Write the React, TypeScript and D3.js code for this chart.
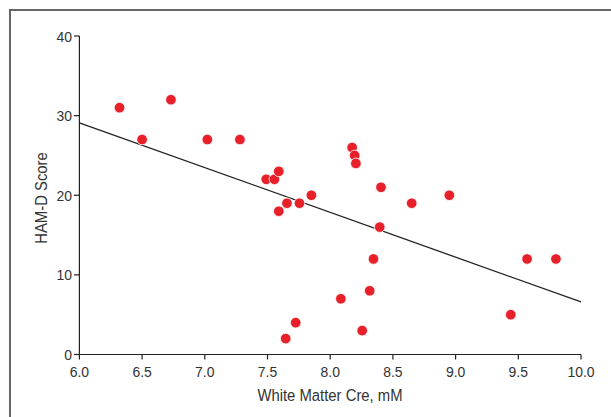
import React from "react";
import * as d3 from "d3";

const creValues = [6.32, 6.5, 6.73, 7.02, 7.28, 7.49, 7.555, 7.59, 7.59, 7.655, 7.755, 7.85,
  8.175, 8.195, 8.205, 8.405, 8.395, 8.65, 8.95, 8.345, 8.315, 8.085, 7.725, 7.645, 8.255, 9.44, 9.57, 9.8];
const hamdScores = [31, 27, 32, 27, 27, 22, 22, 23, 18, 19, 19, 20,
  26, 25, 24, 21, 16, 19, 20, 12, 8, 7, 4, 2, 3, 5, 12, 12];
const fitX = [6.0, 10.0];
const fitY = [29.1, 6.6];
const xTicks = [6.0, 6.5, 7.0, 7.5, 8.0, 8.5, 9.0, 9.5, 10.0];
const yTicks = [0, 10, 20, 30, 40];

const W = 611, H = 417;
const FONT = "'Liberation Sans', Arial, sans-serif";
const SX = 0.9;

export default function App() {
  const x = d3.scaleLinear().domain([6, 10]).range([79.4, 581]);
  const y = d3.scaleLinear().domain([0, 40]).range([354.5, 36]);
  const line = d3.line<number>().x((d, i) => x(fitX[i])).y((d, i) => y(fitY[i]));
  const textColor = "#333";
  return (
    <svg width={W} height={H} style={{ position: "absolute", left: 0, top: 0, background: "#fff" }}>
      <rect x={0} y={0} width={W} height={H} fill="#fff" />
      <path d={`M10,${H} V10 H${W}`} fill="none" stroke="#666" strokeWidth={2} />
      {/* y axis */}
      <line x1={x(6)} x2={x(6)} y1={y(0)} y2={y(40)} stroke="#222" strokeWidth={1.2} />
      {yTicks.map((t) => (
        <g key={t}>
          <line x1={x(6) - 5.5} x2={x(6)} y1={y(t)} y2={y(t)} stroke="#222" strokeWidth={1.2} />
          <text
            transform={`translate(${x(6) - 7.5},${y(t)}) scale(${SX},1)`}
            dy="0.36em"
            textAnchor="end"
            fontFamily={FONT}
            fontSize={15.5}
            fill={textColor}
          >
            {t}
          </text>
        </g>
      ))}
      {/* x axis */}
      <line x1={x(6)} x2={x(10)} y1={y(0)} y2={y(0)} stroke="#222" strokeWidth={1.2} />
      {xTicks.map((t) => (
        <g key={t}>
          <line x1={x(t)} x2={x(t)} y1={y(0)} y2={y(0) + 5} stroke="#222" strokeWidth={1.2} />
          <text
            transform={`translate(${x(t)},${y(0) + 22}) scale(${SX},1)`}
            textAnchor="middle"
            fontFamily={FONT}
            fontSize={15.5}
            fill={textColor}
          >
            {t.toFixed(1)}
          </text>
        </g>
      ))}
      <text
        transform={`translate(330,401) scale(${SX},1)`}
        textAnchor="middle"
        fontFamily={FONT}
        fontSize={16.5}
        fill={textColor}
      >
        White Matter Cre, mM
      </text>
      <text
        transform={`translate(46.5,198) rotate(-90) scale(${SX},1)`}
        textAnchor="middle"
        fontFamily={FONT}
        fontSize={16.5}
        fill={textColor}
      >
        HAM-D Score
      </text>
      <path d={line(fitY) || ""} fill="none" stroke="#222" strokeWidth={1.3} />
      {creValues.map((c, i) => (
        <circle key={i} cx={x(c)} cy={y(hamdScores[i])} r={5.3} fill="#e8202a" stroke="#fff" strokeWidth={0.8} />
      ))}
    </svg>
  );
}
